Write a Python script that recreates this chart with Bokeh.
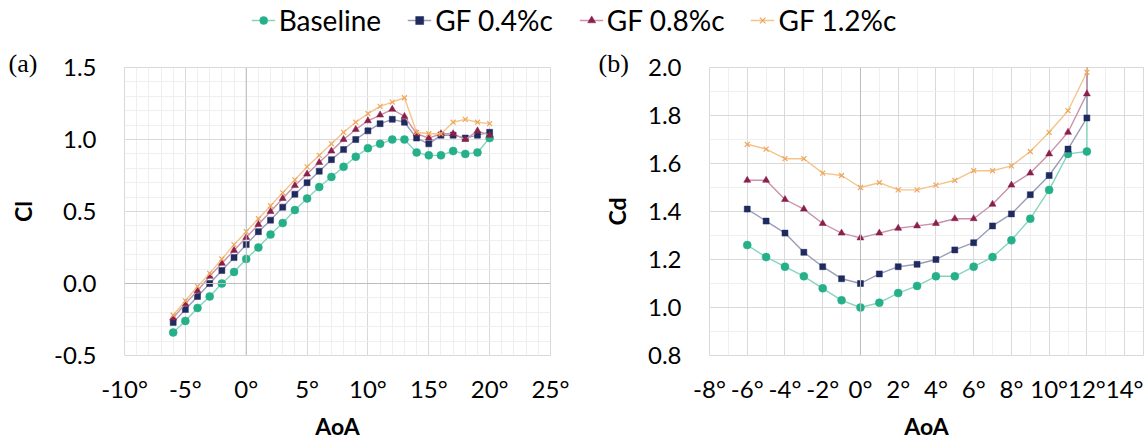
from bokeh.plotting import figure
from bokeh.models import (ColumnDataSource, Legend, LegendItem, Span, Title,
                          SingleIntervalTicker, PrintfTickFormatter,
                          NumeralTickFormatter, Range1d)
from bokeh.layouts import column, row
from bokeh.embed import file_html
from bokeh.resources import INLINE

# ---------------- data ----------------
series_names = ["Baseline", "GF 0.4%c", "GF 0.8%c", "GF 1.2%c"]

aoa_cl = [-6, -5, -4, -3, -2, -1, 0, 1, 2, 3, 4, 5, 6, 7, 8, 9, 10,
          11, 12, 13, 14, 15, 16, 17, 18, 19, 20]
cl_baseline = [-0.34, -0.26, -0.17, -0.09, 0.00, 0.08, 0.17, 0.25, 0.34, 0.42,
               0.51, 0.59, 0.67, 0.74, 0.81, 0.88, 0.94, 0.97, 1.00, 1.00,
               0.91, 0.89, 0.89, 0.92, 0.90, 0.91, 1.01]
cl_gf04 = [-0.27, -0.18, -0.09, 0.00, 0.09, 0.18, 0.27, 0.36, 0.44, 0.53,
           0.62, 0.70, 0.78, 0.86, 0.93, 1.00, 1.06, 1.11, 1.14, 1.12,
           1.01, 0.97, 1.03, 1.03, 1.01, 1.03, 1.05]
cl_gf08 = [-0.24, -0.14, -0.05, 0.05, 0.14, 0.23, 0.32, 0.41, 0.50, 0.59,
           0.68, 0.76, 0.84, 0.92, 1.00, 1.07, 1.13, 1.17, 1.21, 1.16,
           1.04, 1.01, 1.04, 1.04, 1.00, 1.06, 1.03]
cl_gf12 = [-0.22, -0.12, -0.02, 0.07, 0.17, 0.27, 0.36, 0.45, 0.54, 0.63,
           0.72, 0.81, 0.89, 0.97, 1.05, 1.12, 1.18, 1.23, 1.26, 1.29,
           1.05, 1.04, 1.04, 1.12, 1.14, 1.12, 1.11]

# last point lies above the visible range (clipped in the original)
aoa_cd = [-6, -5, -4, -3, -2, -1, 0, 1, 2, 3, 4, 5, 6, 7, 8, 9, 10, 11, 12, 12.05]
cd_baseline = [1.26, 1.21, 1.17, 1.13, 1.08, 1.03, 1.00, 1.02, 1.06, 1.09,
               1.13, 1.13, 1.17, 1.21, 1.28, 1.37, 1.49, 1.64, 1.65, 2.6]
cd_gf04 = [1.41, 1.36, 1.31, 1.23, 1.17, 1.12, 1.10, 1.14, 1.17, 1.18,
           1.20, 1.24, 1.27, 1.34, 1.39, 1.47, 1.55, 1.66, 1.79, 2.6]
cd_gf08 = [1.53, 1.53, 1.45, 1.41, 1.35, 1.31, 1.29, 1.31, 1.33, 1.34,
           1.35, 1.37, 1.37, 1.43, 1.51, 1.56, 1.64, 1.73, 1.89, 2.6]
cd_gf12 = [1.68, 1.66, 1.62, 1.62, 1.56, 1.55, 1.50, 1.52, 1.49, 1.49,
           1.51, 1.53, 1.57, 1.57, 1.59, 1.65, 1.73, 1.82, 1.98, 2.6]

cl_series = [cl_baseline, cl_gf04, cl_gf08, cl_gf12]
cd_series = [cd_baseline, cd_gf04, cd_gf08, cd_gf12]

# ---------------- styles ----------------
marker_colors = ["#25B089", "#1F2A5E", "#8A1F4C", "#F0A558"]
line_colors = ["#86D6BE", "#9A9DB9", "#C993AA", "#F4C48C"]
markers = ["circle", "square", "triangle", "x"]
msizes = [8, 6, 7, 7]

FONT = "Lato"
GRID_MAJOR = "#D9D9D9"
GRID_MINOR = "#EFEFEF"
ZERO = "#BDBDBD"


def style(p, xlab, ylab):
    p.outline_line_color = GRID_MAJOR
    p.outline_line_width = 1
    for g in (p.xgrid[0], p.ygrid[0]):
        g.grid_line_color = GRID_MAJOR
        g.grid_line_width = 1
        g.minor_grid_line_color = GRID_MINOR
        g.minor_grid_line_width = 1
    for ax in (p.xaxis[0], p.yaxis[0]):
        ax.axis_line_color = None
        ax.major_tick_line_color = None
        ax.minor_tick_line_color = None
        ax.major_label_text_font = FONT
        ax.major_label_text_font_size = "24px"
        ax.major_label_text_color = "#000000"
        ax.axis_label_text_font = FONT
        ax.axis_label_text_font_size = "23px"
        ax.axis_label_text_font_style = "bold"
        ax.axis_label_text_color = "#000000"
    p.xaxis[0].axis_label = xlab
    p.yaxis[0].axis_label = ylab
    p.xaxis[0].major_label_standoff = 12
    p.yaxis[0].major_label_standoff = 22
    p.xaxis[0].axis_label_standoff = 6
    p.yaxis[0].axis_label_standoff = 14
    p.background_fill_color = "white"
    p.border_fill_color = "white"


def draw(p, xs, ys_list):
    rs = []
    for ys, mc, lc, mk, ms in zip(ys_list, marker_colors, line_colors, markers, msizes):
        src = ColumnDataSource(dict(x=xs, y=ys))
        lr = p.line("x", "y", source=src, line_color=lc, line_width=1.4)
        sr = p.scatter("x", "y", source=src, marker=mk, size=ms, fill_color=mc,
                       line_color=mc, line_width=1.2 if mk == "x" else 0.5)
        rs.append((lr, sr))
    return rs


def panel_tag(p, text, offset):
    t = Title(text=text, align="left", offset=offset, standoff=-21,
              vertical_align="bottom")
    t.text_font = "Liberation Serif"
    t.text_font_size = "26px"
    t.text_font_style = "normal"
    t.text_color = "#000000"
    p.add_layout(t, "above")


# ---------------- left panel (Cl) ----------------
p1 = figure(width=575, height=402, x_range=Range1d(-10, 25), y_range=Range1d(-0.5, 1.5),
            output_backend="svg", toolbar_location=None,
            min_border_left=124, min_border_right=25, min_border_top=27, min_border_bottom=86)
p1.xaxis[0].ticker = SingleIntervalTicker(interval=5, num_minor_ticks=5)
p1.yaxis[0].ticker = SingleIntervalTicker(interval=0.5, num_minor_ticks=5)
p1.xgrid[0].ticker = p1.xaxis[0].ticker
p1.ygrid[0].ticker = p1.yaxis[0].ticker
p1.xaxis[0].formatter = PrintfTickFormatter(format="%d°")
p1.yaxis[0].formatter = NumeralTickFormatter(format="0.0")
style(p1, "AoA", "Cl")
p1.add_layout(Span(location=0, dimension="height", line_color=ZERO, line_width=1))
p1.add_layout(Span(location=0, dimension="width", line_color=ZERO, line_width=1))
draw(p1, aoa_cl, cl_series)
panel_tag(p1, "(a)", -116)

# ---------------- right panel (Cd) ----------------
p2 = figure(width=572, height=402, x_range=Range1d(-8, 15), y_range=Range1d(0.8, 2.0),
            output_backend="svg", toolbar_location=None,
            min_border_left=134, min_border_right=4, min_border_top=27, min_border_bottom=86)
p2.xaxis[0].ticker = SingleIntervalTicker(interval=2, num_minor_ticks=2)
p2.yaxis[0].ticker = SingleIntervalTicker(interval=0.2, num_minor_ticks=2)
p2.xgrid[0].ticker = p2.xaxis[0].ticker
p2.ygrid[0].ticker = p2.yaxis[0].ticker
p2.xaxis[0].formatter = PrintfTickFormatter(format="%d°")
p2.yaxis[0].formatter = NumeralTickFormatter(format="0.0")
style(p2, "AoA", "Cd")
p2.add_layout(Span(location=0, dimension="height", line_color=ZERO, line_width=1))
draw(p2, aoa_cd, cd_series)
panel_tag(p2, "(b)", -111)

# ---------------- shared legend (same series, view range kept off the data) ----------------
pl = figure(width=1147, height=40, x_range=Range1d(1000, 1001), y_range=Range1d(1000, 1001),
            output_backend="svg", toolbar_location=None,
            min_border_left=0, min_border_right=0, min_border_top=0, min_border_bottom=0)
pl.axis.visible = False
pl.grid.visible = False
pl.outline_line_color = None
legend_rs = draw(pl, aoa_cl, cl_series)
items = [LegendItem(label=name, renderers=[lr, sr])
         for name, (lr, sr) in zip(series_names, legend_rs)]
legend = Legend(items=items, orientation="horizontal", location="center",
                label_text_font=FONT, label_text_font_size="28px",
                label_text_color="#000000", glyph_width=24, glyph_height=20,
                label_standoff=4, spacing=26, padding=0, margin=0,
                border_line_color=None, background_fill_alpha=0)
pl.add_layout(legend, "center")

layout = column(pl, row(p1, p2))
open("out.html", "w").write(file_html(layout, INLINE))
